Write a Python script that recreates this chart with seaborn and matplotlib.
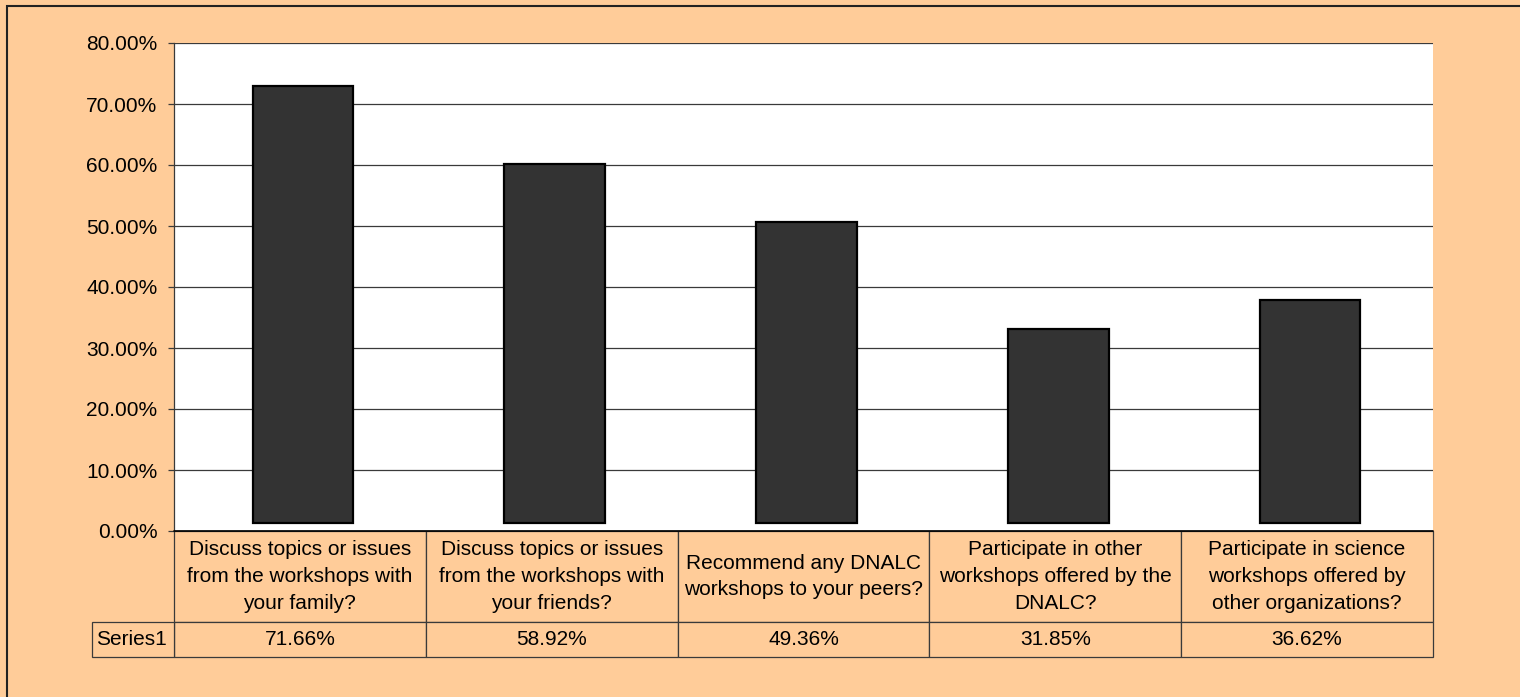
import numpy as np
import pandas as pd
import matplotlib
matplotlib.use('Agg')
import matplotlib.pyplot as plt
import matplotlib.transforms as mtransforms
from matplotlib.patches import Rectangle
import seaborn as sns

# data
questions = [
    "Discuss topics or issues\nfrom the workshops with\nyour family?",
    "Discuss topics or issues\nfrom the workshops with\nyour friends?",
    "Recommend any DNALC\nworkshops to your peers?",
    "Participate in other\nworkshops offered by the\nDNALC?",
    "Participate in science\nworkshops offered by\nother organizations?",
]
percentages = [71.66, 58.92, 49.36, 31.85, 36.62]
series_name = "Series1"
y_ticks = [0, 10, 20, 30, 40, 50, 60, 70, 80]

PEACH = '#FFCC99'
BAR = '#333333'
LINE = '#3a3a3a'
FS = 15

sns.set_theme(style='white')
plt.rcParams['font.family'] = ['Liberation Sans', 'DejaVu Sans']

W, H = 1520, 697
fig = plt.figure(figsize=(W / 100, H / 100), dpi=100, facecolor=PEACH)
ax = fig.add_axes([174 / W, 1 - 531 / H, (1433 - 174) / W, 488 / H])
ax.set_facecolor('white')

df = pd.DataFrame({'question': questions, 'pct': percentages})
sns.barplot(data=df, x='question', y='pct', color=BAR, saturation=1,
            width=0.4, edgecolor='black', linewidth=1.6, ax=ax, zorder=3)

# Excel's 3D depth pushes the columns up and right a little
for p in ax.patches:
    p.set_y(p.get_y() + 1.3)
    p.set_x(p.get_x() + 0.012)

ax.set_ylim(0, 80)
ax.set_xlim(-0.5, len(questions) - 0.5)
ax.set_yticks(y_ticks)
ax.set_yticklabels([f"{v:.2f}%" for v in y_ticks], fontsize=FS, color='black')
ax.set_xticks([])
ax.set_xlabel('')
ax.set_ylabel('')
ax.yaxis.grid(True, color=LINE, linewidth=0.9, zorder=1)
ax.tick_params(axis='y', left=True, length=4.3, width=0.9, color=LINE, pad=7.5)
for side in ['top', 'right', 'bottom']:
    ax.spines[side].set_visible(False)
ax.spines['left'].set_color(LINE)
ax.spines['left'].set_linewidth(0.9)

# data table under the plot
trans = mtransforms.blended_transform_factory(ax.transData, ax.transAxes)
head_h = 91 / 488
val_h = 35 / 488
for i, (q, v) in enumerate(zip(questions, percentages)):
    ax.add_patch(Rectangle((i - 0.5, -head_h), 1, head_h, transform=trans,
                           facecolor=PEACH, edgecolor=LINE, lw=0.9, clip_on=False))
    ax.add_patch(Rectangle((i - 0.5, -head_h - val_h), 1, val_h, transform=trans,
                           facecolor=PEACH, edgecolor=LINE, lw=0.9, clip_on=False))
    ax.text(i, -head_h / 2, q, transform=trans, ha='center', va='center',
            fontsize=FS, linespacing=1.52, color='black', clip_on=False)
    ax.text(i, -head_h - val_h / 2, f"{v:.2f}%", transform=trans,
            ha='center', va='center', fontsize=FS, color='black', clip_on=False)

lab_w = (174 - 92) / 1259
ax.add_patch(Rectangle((-lab_w, -head_h - val_h), lab_w, val_h, transform=ax.transAxes,
                       facecolor=PEACH, edgecolor=LINE, lw=0.9, clip_on=False))
ax.text(-lab_w + 4 / 1259, -head_h - val_h / 2, series_name, transform=ax.transAxes,
        ha='left', va='center', fontsize=FS, color='black', clip_on=False)
ax.axhline(0, color='black', lw=1.2, clip_on=False, zorder=4)

# chart area border
fig.patches.append(Rectangle((7 / W, -0.1), 2, 1 - 6 / H + 0.1, transform=fig.transFigure,
                             fill=False, edgecolor='#222222', lw=1.5))

fig.savefig('out.png', dpi=100, facecolor=fig.get_facecolor())
